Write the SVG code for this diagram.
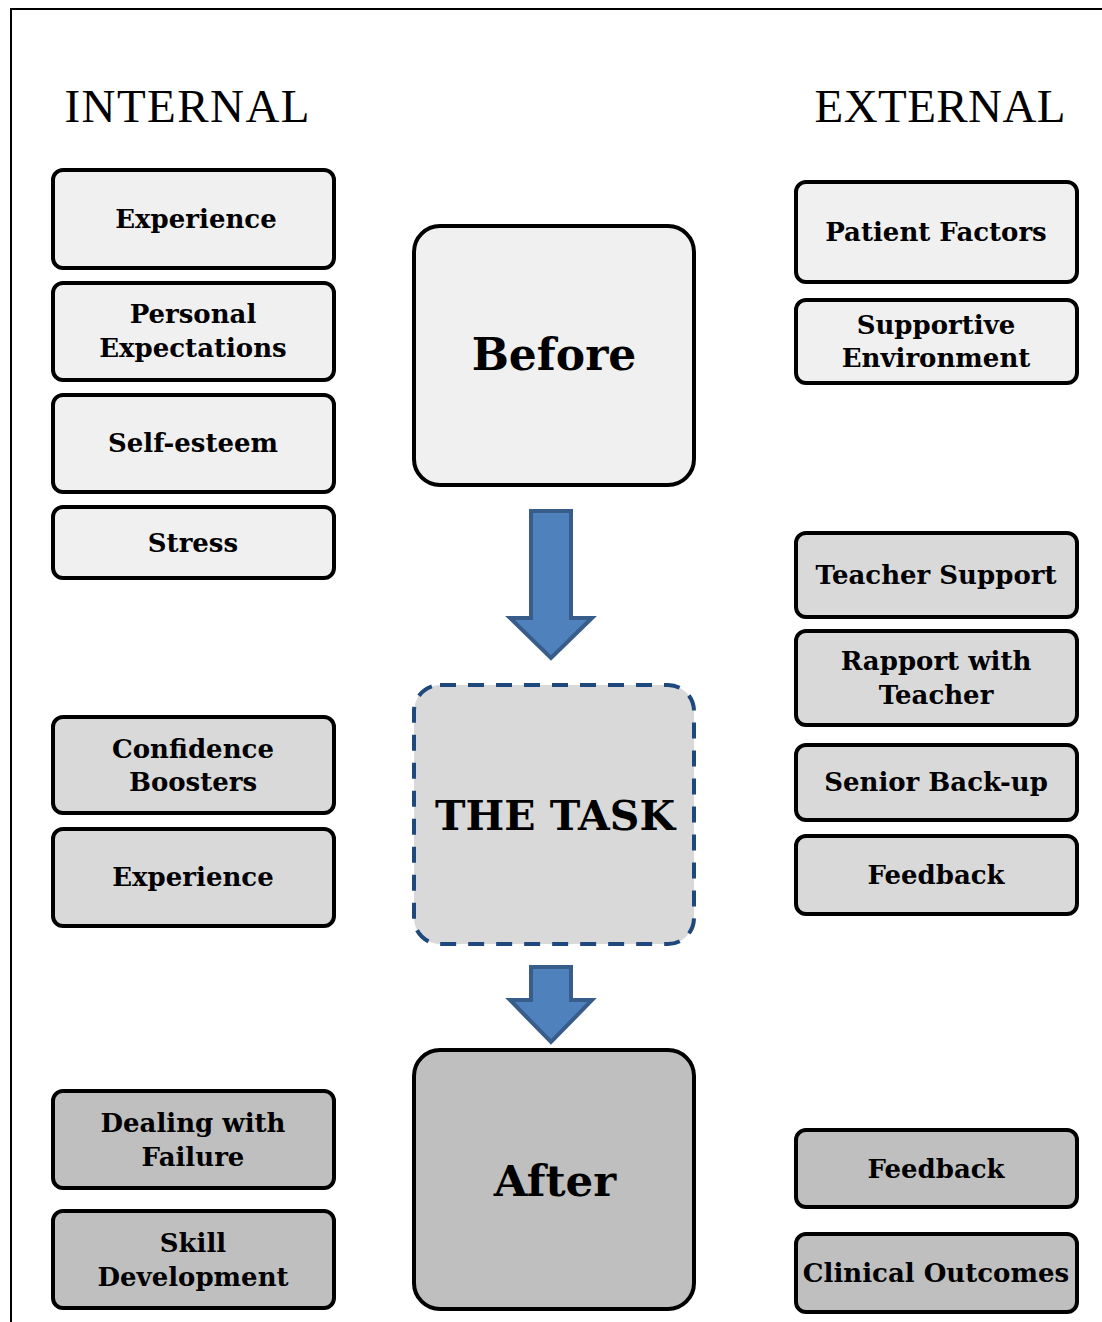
<svg xmlns="http://www.w3.org/2000/svg" width="1102" height="1322" viewBox="0 0 1102 1322">
<style>
.bx{stroke:#000;stroke-width:4}
.l1{fill:#f0f0f0}.l2{fill:#d9d9d9}.l3{fill:#bfbfbf}
.t{font-family:"DejaVu Serif","Liberation Serif",serif;font-weight:bold;font-size:26px;text-anchor:middle;fill:#000}
.h{font-family:"Liberation Serif","DejaVu Serif",serif;font-size:47px;fill:#000}
.big{font-family:"DejaVu Serif","Liberation Serif",serif;font-weight:bold;text-anchor:middle;fill:#000}
.ar{fill:#4f81bd;stroke:#385d8a;stroke-width:4}
</style>
<rect width="1102" height="1322" fill="#fff"/>
<path d="M11 1322V9H1102" fill="none" stroke="#000" stroke-width="2"/>
<text class="h" x="187" y="122" text-anchor="middle" textLength="245">INTERNAL</text>
<text class="h" x="940" y="122" text-anchor="middle" textLength="251">EXTERNAL</text>

<g id="n-experience1"><rect class="bx l1" x="53" y="170" width="281" height="98" rx="10"/><text class="t" x="196" y="228">Experience</text></g>
<g id="n-personal"><rect class="bx l1" x="53" y="283" width="281" height="97" rx="10"/><text class="t" x="193" y="323">Personal</text><text class="t" x="193" y="357">Expectations</text></g>
<g id="n-selfesteem"><rect class="bx l1" x="53" y="395" width="281" height="97" rx="10"/><text class="t" x="193" y="452">Self-esteem</text></g>
<g id="n-stress"><rect class="bx l1" x="53" y="507" width="281" height="71" rx="10"/><text class="t" x="193" y="552">Stress</text></g>
<g id="n-confidence"><rect class="bx l2" x="53" y="717" width="281" height="96" rx="10"/><text class="t" x="193" y="758">Confidence</text><text class="t" x="193" y="791">Boosters</text></g>
<g id="n-experience2"><rect class="bx l2" x="53" y="829" width="281" height="97" rx="10"/><text class="t" x="193" y="886">Experience</text></g>
<g id="n-failure"><rect class="bx l3" x="53" y="1091" width="281" height="97" rx="10"/><text class="t" x="193" y="1132">Dealing with</text><text class="t" x="193" y="1166">Failure</text></g>
<g id="n-skill"><rect class="bx l3" x="53" y="1211" width="281" height="97" rx="10"/><text class="t" x="193" y="1252">Skill</text><text class="t" x="193" y="1286">Development</text></g>

<g id="n-patient"><rect class="bx l1" x="796" y="182" width="281" height="100" rx="10"/><text class="t" x="936" y="241">Patient Factors</text></g>
<g id="n-supportive"><rect class="bx l1" x="796" y="300" width="281" height="83" rx="10"/><text class="t" x="936" y="334">Supportive</text><text class="t" x="936" y="367">Environment</text></g>
<g id="n-teacher"><rect class="bx l2" x="796" y="533" width="281" height="84" rx="10"/><text class="t" x="936" y="584">Teacher Support</text></g>
<g id="n-rapport"><rect class="bx l2" x="796" y="631" width="281" height="94" rx="10"/><text class="t" x="936" y="670">Rapport with</text><text class="t" x="936" y="704">Teacher</text></g>
<g id="n-senior"><rect class="bx l2" x="796" y="745" width="281" height="75" rx="10"/><text class="t" x="936" y="791">Senior Back-up</text></g>
<g id="n-feedback1"><rect class="bx l2" x="796" y="836" width="281" height="78" rx="10"/><text class="t" x="936" y="884">Feedback</text></g>
<g id="n-feedback2"><rect class="bx l3" x="796" y="1130" width="281" height="77" rx="10"/><text class="t" x="936" y="1178">Feedback</text></g>
<g id="n-clinical"><rect class="bx l3" x="796" y="1234" width="281" height="78" rx="10"/><text class="t" x="936" y="1282">Clinical Outcomes</text></g>

<g id="n-before"><rect class="bx l1" x="414" y="226" width="280" height="259" rx="26"/><text class="big" x="554" y="370" font-size="44">Before</text></g>
<g id="n-task"><rect x="414" y="685" width="280" height="259" rx="26" fill="#d9d9d9" stroke="#1f497d" stroke-width="4" stroke-dasharray="16 12"/><text class="big" x="555" y="830" font-size="41">THE TASK</text></g>
<g id="n-after"><rect class="bx l3" x="414" y="1050" width="280" height="259" rx="26"/><text class="big" x="555" y="1196" font-size="43.5">After</text></g>

<g id="connectors">
<path class="ar" d="M531 511H571V618H592L551 658L510 618H531Z"/>
<path class="ar" d="M531 967H571V1000H592L551 1042L510 1000H531Z"/>
</g>
</svg>
